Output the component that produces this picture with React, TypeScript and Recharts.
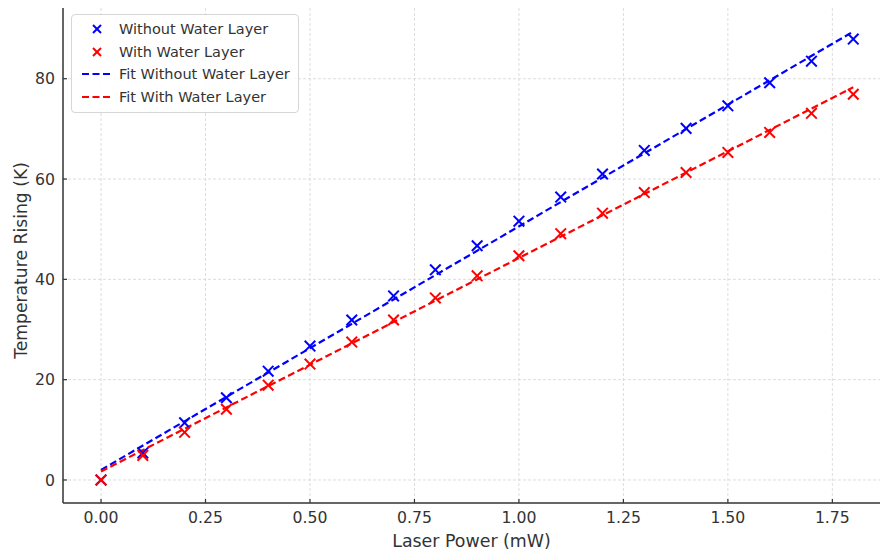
import {
  ComposedChart,
  Scatter,
  Line,
  XAxis,
  YAxis,
  CartesianGrid,
  Legend,
  Label,
} from "recharts"

// laser power steps (mW)
const power = [0, 0.1, 0.2, 0.3, 0.4, 0.5, 0.6, 0.7, 0.8, 0.9, 1.0, 1.1, 1.2, 1.3, 1.4, 1.5, 1.6, 1.7, 1.8]

// measured temperature rise (K)
const withoutWater = [0, 5.4, 11.4, 16.4, 21.7, 26.7, 31.9, 36.7, 41.9, 46.7, 51.6, 56.4, 61.0, 65.7, 70.1, 74.6, 79.2, 83.5, 87.9]
const withWater = [0, 4.9, 9.5, 14.1, 18.9, 23.1, 27.5, 31.9, 36.3, 40.7, 44.7, 49.1, 53.2, 57.3, 61.3, 65.3, 69.3, 73.1, 76.9]

// linear fit end points
const fitPower = [0, 1.8]
const fitWithout = [2.0, 89.4]
const fitWith = [1.7, 78.3]

const xTicks = [0, 0.25, 0.5, 0.75, 1.0, 1.25, 1.5, 1.75]
const yTicks = [0, 20, 40, 60, 80]

const BLUE = "#0000ff"
const RED = "#ff0000"
const INK = "#333333"
const FONT = "DejaVu Sans, sans-serif"

const pointsWithout = power.map((x, i) => ({ x, y: withoutWater[i] }))
const pointsWith = power.map((x, i) => ({ x, y: withWater[i] }))
const lineWithout = fitPower.map((x, i) => ({ x, y: fitWithout[i] }))
const lineWith = fitPower.map((x, i) => ({ x, y: fitWith[i] }))

const TICK_GAP = 8

// axis scale may be a plain d3 function or a wrapper with map()
function project(axis: any, v: number) {
  const s = axis?.scale
  if (typeof s === "function") return s(v)
  if (s && typeof s.map === "function") return s.map(v)
  return NaN
}

function Cross({ cx, cy, color, size = 5.3 }: any) {
  return (
    <g stroke={color} strokeWidth={2}>
      <line x1={cx - size} y1={cy - size} x2={cx + size} y2={cy + size} />
      <line x1={cx - size} y1={cy + size} x2={cx + size} y2={cy - size} />
    </g>
  )
}

function XTick({ x, y, payload }: any) {
  return (
    <g>
      <line x1={x} x2={x} y1={y - TICK_GAP} y2={y - TICK_GAP - 4} stroke={INK} strokeWidth={1.2} />
      <text x={x} y={y} dy="0.76em" textAnchor="middle" fill={INK} fontSize={15.7} fontFamily={FONT}>
        {payload.value.toFixed(2)}
      </text>
    </g>
  )
}

function YTick({ x, y, payload }: any) {
  return (
    <g>
      <line x1={x + TICK_GAP} x2={x + TICK_GAP + 4} y1={y} y2={y} stroke={INK} strokeWidth={1.2} />
      <text x={x} y={y} dy="0.36em" textAnchor="end" fill={INK} fontSize={15.7} fontFamily={FONT}>
        {payload.value}
      </text>
    </g>
  )
}

const legendItems = [
  { label: "Without Water Layer", color: BLUE, kind: "cross" },
  { label: "With Water Layer", color: RED, kind: "cross" },
  { label: "Fit Without Water Layer", color: BLUE, kind: "dash" },
  { label: "Fit With Water Layer", color: RED, kind: "dash" },
]

function LegendBox() {
  return (
    <div
      style={{
        border: "1px solid #d6d6d6",
        borderRadius: 4,
        background: "rgba(255,255,255,0.85)",
        padding: "3px 8px 4px 5px",
        fontFamily: FONT,
        fontSize: 14.5,
        color: INK,
      }}
    >
      {legendItems.map((it) => (
        <div key={it.label} style={{ display: "flex", alignItems: "center", height: 22.5 }}>
          <svg width={42} height={22} style={{ flex: "none" }}>
            {it.kind === "cross" ? (
              <Cross cx={20} cy={11} color={it.color} size={4} />
            ) : (
              <line x1={5} x2={35} y1={11} y2={11} stroke={it.color} strokeWidth={2.2} strokeDasharray="7 3.5" />
            )}
          </svg>
          <span>{it.label}</span>
        </div>
      ))}
    </div>
  )
}

export default function App() {
  return (
    <div style={{ position: "absolute", left: 0, top: 0, background: "#fff" }}>
      <ComposedChart width={880} height={551} margin={{ top: 8, right: 0, bottom: 0, left: 0 }}>
        <CartesianGrid
          stroke="#d4d4d4"
          strokeDasharray="3 2"
          strokeWidth={0.8}
          horizontalCoordinatesGenerator={({ yAxis }: any) => yTicks.map((t) => project(yAxis, t))}
          verticalCoordinatesGenerator={({ xAxis }: any) => xTicks.map((t) => project(xAxis, t))}
        />
        <XAxis
          type="number"
          dataKey="x"
          domain={[-0.091, 1.864]}
          ticks={xTicks}
          allowDataOverflow
          height={48}
          axisLine={{ stroke: INK, strokeWidth: 1.5 }}
          tickLine={false}
          tickSize={0}
          tickMargin={TICK_GAP}
          tick={<XTick />}
        >
          <Label
            content={({ viewBox }: any) => (
              <text
                x={viewBox.x + viewBox.width / 2}
                y={547}
                textAnchor="middle"
                fill={INK}
                fontSize={17.4}
                fontFamily={FONT}
              >
                Laser Power (mW)
              </text>
            )}
          />
        </XAxis>
        <YAxis
          type="number"
          dataKey="y"
          domain={[-4.59, 94.1]}
          ticks={yTicks}
          allowDataOverflow
          width={63}
          axisLine={{ stroke: INK, strokeWidth: 1.5 }}
          tickLine={false}
          tickSize={0}
          tickMargin={TICK_GAP}
          tick={<YTick />}
        >
          <Label
            content={({ viewBox }: any) => {
              const cx = 21
              const cy = viewBox.y + viewBox.height / 2 + 5
              return (
                <text
                  x={cx}
                  y={cy}
                  dy="0.36em"
                  transform={`rotate(-90 ${cx} ${cy})`}
                  textAnchor="middle"
                  fill={INK}
                  fontSize={17.2}
                  fontFamily={FONT}
                >
                  Temperature Rising (K)
                </text>
              )
            }}
          />
        </YAxis>
        <Scatter
          name="Without Water Layer"
          data={pointsWithout}
          isAnimationActive={false}
          shape={(p: any) => <Cross cx={p.cx} cy={p.cy} color={BLUE} />}
        />
        <Scatter
          name="With Water Layer"
          data={pointsWith}
          isAnimationActive={false}
          shape={(p: any) => <Cross cx={p.cx} cy={p.cy} color={RED} />}
        />
        <Line
          name="Fit Without Water Layer"
          data={lineWithout}
          dataKey="y"
          type="linear"
          stroke={BLUE}
          strokeWidth={2.2}
          strokeDasharray="7 3.5"
          dot={false}
          activeDot={false}
          isAnimationActive={false}
        />
        <Line
          name="Fit With Water Layer"
          data={lineWith}
          dataKey="y"
          type="linear"
          stroke={RED}
          strokeWidth={2.2}
          strokeDasharray="7 3.5"
          dot={false}
          activeDot={false}
          isAnimationActive={false}
        />
        <Legend
          layout="horizontal"
          verticalAlign="middle"
          align="center"
          content={() => <LegendBox />}
          wrapperStyle={{ top: 14, left: 71, width: "auto" }}
        />
      </ComposedChart>
    </div>
  )
}
